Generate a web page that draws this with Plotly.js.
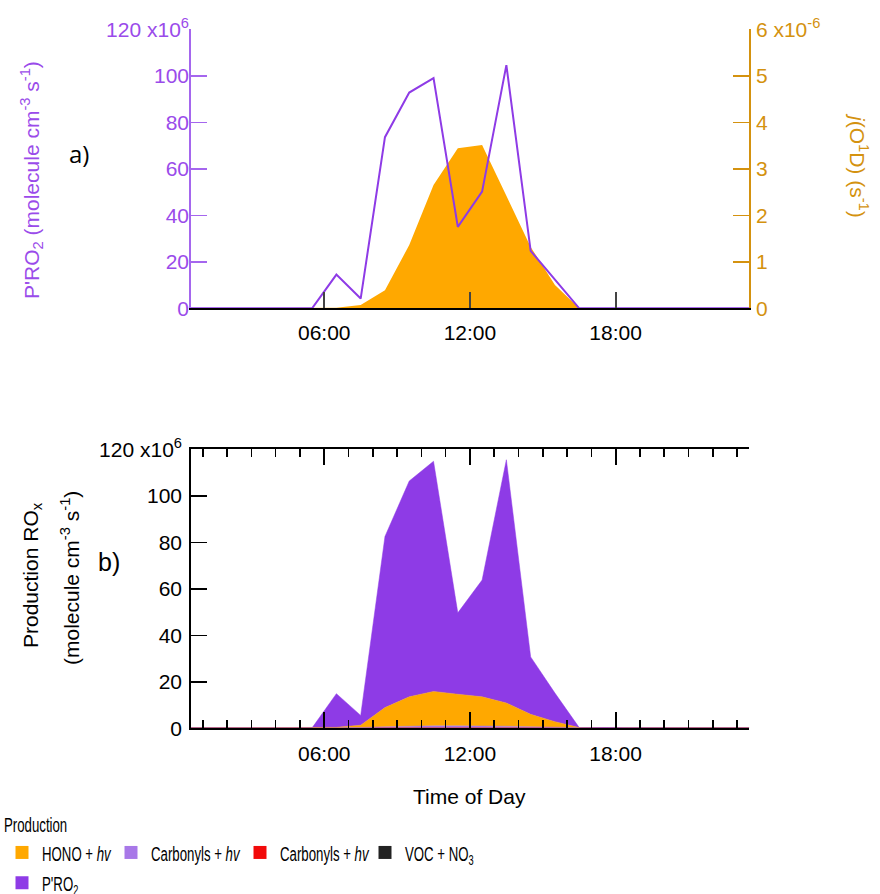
<!DOCTYPE html>
<html>
<head>
<meta charset="utf-8">
<script src="https://cdn.plot.ly/plotly-3.0.1.min.js"></script>
<style>html,body{margin:0;padding:0;background:#fff;}#chart{width:880px;height:894px;}</style>
</head>
<body>
<div id="chart"></div>
<script>
// ---- data ----
const hours = [0.5,1.5,2.5,3.5,4.5,5.5,6.5,7.5,8.5,9.5,10.5,11.5,12.5,13.5,14.5,15.5,16.5,17.5,18.5,19.5,20.5,21.5,22.5,23.5];
// P'RO2 (x1e6 molecule cm-3 s-1)
const pro2 = [0,0,0,0,0,0,14.5,4.2,73.6,92.8,99.0,35.0,50.2,104.6,24.7,12.3,0,0,0,0,0,0,0,0];
// j(O1D) (x1e-6 s-1)
const jo1d = [0,0,0,0,0,0,0.01,0.07,0.39,1.36,2.65,3.44,3.51,2.42,1.32,0.50,0,0,0,0,0,0,0,0];
// Production terms (x1e6 molecule cm-3 s-1)
const hono = [0,0,0,0,0,0,0.2,1.0,8.2,12.6,14.8,13.6,12.5,10.0,5.3,2.4,0.2,0,0,0,0,0,0,0];
const carbonylsA = [0,0,0,0,0,0,0.1,0.3,0.6,0.8,0.9,0.9,0.9,0.8,0.6,0.4,0.1,0,0,0,0,0,0,0];
const carbonylsB = [0,0,0,0,0,0,0,0.05,0.1,0.15,0.15,0.15,0.15,0.1,0.1,0.05,0,0,0,0,0,0,0,0];
const vocNo3 = [0.2,0.2,0.2,0.2,0.2,0.2,0.1,0,0,0,0,0,0,0,0,0,0,0.1,0.2,0.2,0.2,0.2,0.2,0.2];
const legendNames = ['HONO + <i>hv</i>', 'Carbonyls + <i>hv</i>', 'Carbonyls + <i>hv</i> ', 'VOC + NO<sub>3</sub>', "P'RO<sub>2</sub>"];
const xTickVals = [6,12,18];
const xTickText = ['06:00','12:00','18:00'];
const yTickVals = [0,20,40,60,80,100,120];
const yTickText = ['0','20','40','60','80','100','120 x10<sup>6</sup>'];
const jTickVals = [0,1,2,3,4,5,6];
const jTickText = ['0','1','2','3','4','5','6 x10<sup>-6</sup>'];

// ---- style ----
const W = 880, H = 894;
const px = x => x / W;
const py = y => 1 - y / H;
const FONT = 'Liberation Sans, Arial, sans-serif';
const ORANGE = '#FFA800';
const PURPLE = '#8E3BE6';
const LPURPLE = '#A878E8';
const RED = '#F20A0A';
const BLACK = '#222222';
const AXPURPLE = '#A566EE';
const TXPURPLE = '#9A4BEA';
const GOLD = '#D4920F';
const xDom = [px(190.7), px(749.2)];
const topDom = [py(308.3), py(29.3)];
const botDom = [py(728.3), py(449.3)];
const LEGSCALE = 0.63;

const legendColors = [ORANGE, LPURPLE, RED, BLACK, PURPLE];
const legendWidths = [64, 84, 80, 70, 60];
const legendGroups = ['g1', 'g2', 'g3', 'g4', 'g1'];

const traces = [
  // top chart
  {x: hours, y: jo1d, xaxis: 'x', yaxis: 'y', type: 'scatter', mode: 'lines', fill: 'tozeroy',
   fillcolor: ORANGE, line: {width: 0, color: ORANGE}, showlegend: false, name: 'j(O1D)'},
  {x: hours, y: pro2, xaxis: 'x', yaxis: 'y2', type: 'scatter', mode: 'lines',
   line: {width: 2, color: PURPLE}, showlegend: false, name: "P'RO2"},
  // bottom chart (stacked)
  {x: hours, y: vocNo3, xaxis: 'x2', yaxis: 'y3', stackgroup: 'p', mode: 'lines', line: {width: 0.5, color: BLACK}, fillcolor: BLACK, showlegend: false},
  {x: hours, y: carbonylsB, xaxis: 'x2', yaxis: 'y3', stackgroup: 'p', mode: 'lines', line: {width: 0.5, color: RED}, fillcolor: RED, showlegend: false},
  {x: hours, y: carbonylsA, xaxis: 'x2', yaxis: 'y3', stackgroup: 'p', mode: 'lines', line: {width: 0.5, color: LPURPLE}, fillcolor: LPURPLE, showlegend: false},
  {x: hours, y: hono, xaxis: 'x2', yaxis: 'y3', stackgroup: 'p', mode: 'lines', line: {width: 0.5, color: ORANGE}, fillcolor: ORANGE, showlegend: false},
  {x: hours, y: pro2, xaxis: 'x2', yaxis: 'y3', stackgroup: 'p', mode: 'lines', line: {width: 0.5, color: PURPLE}, fillcolor: PURPLE, showlegend: false}
];
// legend entries
legendNames.forEach((n, i) => {
  traces.push({x: [null], y: [null], xaxis: 'x2', yaxis: 'y3', mode: 'markers', type: 'scatter',
    marker: {symbol: 'square', size: 13, color: legendColors[i]}, name: n,
    legendgroup: legendGroups[i], legendwidth: legendWidths[i], showlegend: true});
});

const tickFont = c => ({family: FONT, size: 21, color: c});
const legFont = {family: FONT, size: 21, color: '#000'};

const layout = {
  width: W, height: H,
  margin: {l: 0, r: 0, t: 0, b: 0, autoexpand: false},
  paper_bgcolor: '#fff', plot_bgcolor: 'rgba(0,0,0,0)',
  font: {family: FONT, size: 21, color: '#000'},
  showlegend: true,
  xaxis: {domain: xDom, anchor: 'y', range: [0.5, 23.5], showgrid: false, zeroline: false,
    showline: true, linecolor: '#000', linewidth: 1.5,
    ticks: 'inside', ticklen: 16, tickwidth: 2, tickcolor: '#444', ticklabelstandoff: 5,
    tickmode: 'array', tickvals: xTickVals, ticktext: xTickText, tickfont: tickFont('#000')},
  yaxis: {domain: topDom, anchor: 'x', side: 'right', range: [0, 6], showgrid: false, zeroline: false,
    showline: true, linecolor: GOLD, linewidth: 1.5,
    ticks: 'inside', ticklen: 16, tickwidth: 1.5, tickcolor: GOLD, ticklabelstandoff: 1,
    tickmode: 'array', tickvals: jTickVals, ticktext: jTickText, tickfont: tickFont(GOLD)},
  yaxis2: {overlaying: 'y', anchor: 'x', side: 'left', range: [0, 120], showgrid: false, zeroline: false,
    showline: true, linecolor: AXPURPLE, linewidth: 1.5,
    ticks: 'inside', ticklen: 16, tickwidth: 1.5, tickcolor: AXPURPLE, ticklabelstandoff: -4,
    tickmode: 'array', tickvals: yTickVals, ticktext: yTickText, tickfont: tickFont(TXPURPLE)},
  xaxis2: {domain: xDom, anchor: 'y3', range: [0.5, 23.5], showgrid: false, zeroline: false,
    showline: true, linecolor: '#000', linewidth: 2, mirror: 'ticks',
    ticks: 'inside', ticklen: 16, tickwidth: 2, tickcolor: '#000', ticklabelstandoff: 5,
    tickmode: 'array', tickvals: xTickVals, ticktext: xTickText, tickfont: tickFont('#000'),
    minor: {tickmode: 'linear', tick0: 0, dtick: 1, ticks: 'inside', ticklen: 8, tickwidth: 1.5, tickcolor: '#000', showgrid: false}},
  yaxis3: {domain: botDom, anchor: 'x2', range: [0, 120], showgrid: false, zeroline: false,
    showline: true, linecolor: '#000', linewidth: 1.5,
    ticks: 'inside', ticklen: 16, tickwidth: 1.5, tickcolor: '#000', ticklabelstandoff: 3,
    tickmode: 'array', tickvals: yTickVals, ticktext: yTickText, tickfont: tickFont('#000')},
  legend: {orientation: 'h', x: px(2), xanchor: 'left', y: py(805), yanchor: 'top',
    bgcolor: 'rgba(0,0,0,0)', font: legFont, traceorder: 'grouped', entrywidthmode: 'pixels',
    title: {text: 'Production', side: 'top', font: legFont},
    itemclick: false, tracegroupgap: 0},
  annotations: [
    {xref: 'paper', yref: 'paper', x: px(32), y: py(180), text: "P'RO<sub>2</sub> (molecule cm<sup>-3</sup> s<sup>-1</sup>)",
     textangle: -90, showarrow: false, font: {family: FONT, size: 21, color: TXPURPLE}, xanchor: 'center', yanchor: 'middle'},
    {xref: 'paper', yref: 'paper', x: px(859), y: py(165), text: "<i>j</i>(O<sup>1</sup>D) (s<sup>-1</sup>)",
     textangle: 90, showarrow: false, font: {family: FONT, size: 21, color: GOLD}, xanchor: 'center', yanchor: 'middle'},
    {xref: 'paper', yref: 'paper', x: px(32), y: py(575), text: "Production RO<sub>x</sub>",
     textangle: -90, showarrow: false, font: {family: FONT, size: 21, color: '#000'}, xanchor: 'center', yanchor: 'middle'},
    {xref: 'paper', yref: 'paper', x: px(70), y: py(578), text: "(molecule cm<sup>-3</sup> s<sup>-1</sup>)",
     textangle: -90, showarrow: false, font: {family: FONT, size: 21, color: '#000'}, xanchor: 'center', yanchor: 'middle'},
    {xref: 'paper', yref: 'paper', x: px(79), y: py(153), text: 'a)', showarrow: false,
     font: {family: 'Open Sans, sans-serif', size: 24, color: '#000'}, xanchor: 'center', yanchor: 'middle'},
    {xref: 'paper', yref: 'paper', x: px(109), y: py(562), text: 'b)', showarrow: false,
     font: {family: FONT, size: 25, color: '#000'}, xanchor: 'center', yanchor: 'middle'},
    {xref: 'paper', yref: 'paper', x: px(469), y: py(796), text: 'Time of Day', showarrow: false,
     font: {family: FONT, size: 21, color: '#000'}, xanchor: 'center', yanchor: 'middle'}
  ]
};

// the reference legend uses a condensed typeface: squeeze legend texts horizontally
function squeeze(gd) {
  gd.querySelectorAll('text.legendtext, text.legendtitletext').forEach(t => {
    const x = parseFloat(t.getAttribute('x')) || 0;
    t.setAttribute('transform', 'matrix(' + LEGSCALE + ',0,0,1,' + (x * (1 - LEGSCALE)) + ',0)');
  });
}
Plotly.newPlot('chart', traces, layout, {staticPlot: true, displayModeBar: false}).then(gd => {
  squeeze(gd);
  gd.on('plotly_afterplot', () => squeeze(gd));
});
</script>
</body>
</html>
